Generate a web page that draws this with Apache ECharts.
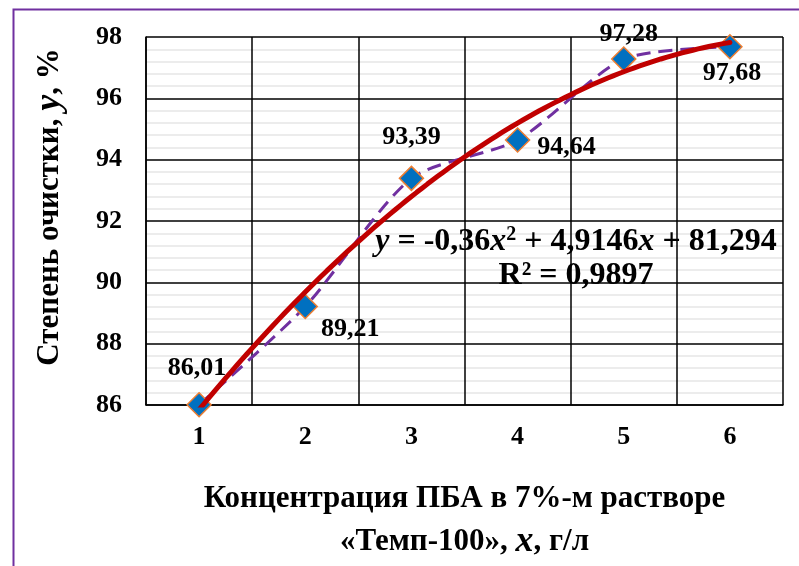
<!DOCTYPE html>
<html>
<head>
<meta charset="utf-8">
<script src="https://cdn.jsdelivr.net/npm/echarts@6/dist/echarts.min.js"></script>
<style>
html,body{margin:0;padding:0;background:#fff;}
#chart{width:799px;height:566px;}
</style>
</head>
<body>
<div id="chart"></div>
<script>
// ---- data ----
const categories = ['1', '2', '3', '4', '5', '6'];
const xValues = [1, 2, 3, 4, 5, 6];
const yValues = [86.01, 89.21, 93.39, 94.64, 97.28, 97.68];
const valueLabels = ['86,01', '89,21', '93,39', '94,64', '97,28', '97,68'];
// polynomial trendline shown on the chart: y = a*x^2 + b*x + c
const trendCoefs = [-0.36, 4.9146, 81.294];
const yTicks = [86, 88, 90, 92, 94, 96, 98];

const FONT = '"Liberation Serif", "Times New Roman", serif';
const FS = 26;   // ticks and data labels
const TS = 31;   // axis titles
const ES = 32;   // equation

// trendline samples along the chart's own equation
const trendData = [];
for (let i = 0; i <= 100; i++) {
  const x = 1 + i * 0.05;
  trendData.push([x, trendCoefs[0] * x * x + trendCoefs[1] * x + trendCoefs[2]]);
}

const labelPos = [
  { position: 'top', distance: 11, offset: [-2, 0] },
  { position: 'right', distance: 3, offset: [0, 23] },
  { position: 'top', distance: 15, offset: [0, 0] },
  { position: 'right', distance: 7, offset: [0, 7] },
  { position: 'top', distance: -1, offset: [5, 0] },
  { position: 'bottom', distance: 1, offset: [2, 0] }
];

const scatterData = yValues.map((v, i) => ({
  value: [categories[i], v],
  label: Object.assign({ show: true, formatter: valueLabels[i] }, labelPos[i])
}));

const chart = echarts.init(document.getElementById('chart'), null, { renderer: 'canvas' });
chart.setOption({
  backgroundColor: '#ffffff',
  animation: false,
  textStyle: { fontFamily: FONT },
  grid: { left: 146, right: 16, top: 37, bottom: 161, containLabel: false },
  xAxis: [
    {
      type: 'category',
      data: categories,
      boundaryGap: true,
      axisLine: { show: true, lineStyle: { color: '#000', width: 1.5 } },
      axisTick: { show: false },
      axisLabel: { color: '#000', fontFamily: FONT, fontSize: FS, fontWeight: 'bold', margin: 19 },
      splitLine: { show: true, lineStyle: { color: '#000', width: 1.5 } },
      name: '{a|Концентрация ПБА в 7%-м растворе}\n{a|«Темп-100», }{i|x}{a|, г/л}',
      nameLocation: 'middle',
      nameGap: 72,
      nameTextStyle: {
        rich: {
          a: { fontFamily: FONT, fontSize: TS, fontWeight: 'bold', color: '#000', lineHeight: 43 },
          i: { fontFamily: FONT, fontSize: TS + 5, fontWeight: 'bold', fontStyle: 'italic', color: '#000', lineHeight: 43 }
        }
      }
    },
    {
      type: 'value',
      min: 0.5,
      max: 6.5,
      show: false,
      splitLine: { show: false }
    }
  ],
  yAxis: {
    type: 'value',
    min: yTicks[0],
    max: yTicks[yTicks.length - 1],
    interval: 2,
    axisLine: { show: true, lineStyle: { color: '#000', width: 1.5 } },
    axisTick: { show: false },
    axisLabel: { color: '#000', fontFamily: FONT, fontSize: FS, fontWeight: 'bold', margin: 24 },
    splitLine: { show: true, lineStyle: { color: '#000', width: 1.5 } },
    minorTick: { show: false, splitNumber: 5 },
    minorSplitLine: { show: true, lineStyle: { color: '#e6e6e6', width: 1.5 } },
    name: '{a|Степень очистки, }{i|y}{a|, %}',
    nameLocation: 'middle',
    nameRotate: 90,
    nameGap: 78,
    nameTextStyle: {
      padding: [0, 0, 0, 28],
      rich: {
        a: { fontFamily: FONT, fontSize: TS, fontWeight: 'bold', color: '#000' },
        i: { fontFamily: FONT, fontSize: TS + 5, fontWeight: 'bold', fontStyle: 'italic', color: '#000' }
      }
    }
  },
  series: [
    {
      type: 'line',
      xAxisIndex: 0,
      data: yValues.map((v, i) => [categories[i], v]),
      smooth: 0.25,
      symbol: 'none',
      lineStyle: { color: '#7030A0', width: 3, type: [14, 8] },
      z: 2
    },
    {
      type: 'scatter',
      xAxisIndex: 0,
      data: scatterData,
      symbol: 'diamond',
      symbolSize: 24,
      itemStyle: { color: '#0070C0', borderColor: '#ED7D31', borderWidth: 1.5, opacity: 1 },
      label: { color: '#000', fontFamily: FONT, fontSize: FS, fontWeight: 'bold' },
      z: 3
    },
    {
      type: 'line',
      xAxisIndex: 1,
      data: trendData,
      smooth: false,
      symbol: 'none',
      lineStyle: { color: '#C00000', width: 5, cap: 'round' },
      z: 4
    }
  ],
  graphic: [
    {
      type: 'rect',
      left: 11, top: 7,
      shape: { width: 900, height: 700 },
      style: { fill: 'none', stroke: '#7030A0', lineWidth: 2 },
      silent: true
    },
    {
      type: 'text',
      x: 576, y: 225,
      z: 10,
      style: {
        text: '{i|y}{a| = -0,36}{i|x}{s|2}{a| + 4,9146}{i|x}{a| + 81,294}\n{a|R² = 0,9897}',
        align: 'center',
        fill: '#000',
        rich: {
          a: { fontFamily: FONT, fontSize: ES, fontWeight: 'bold', fill: '#000', lineHeight: 34 },
          i: { fontFamily: FONT, fontSize: ES, fontWeight: 'bold', fontStyle: 'italic', fill: '#000', lineHeight: 34 },
          s: { fontFamily: FONT, fontSize: 20, fontWeight: 'bold', fill: '#000', verticalAlign: 'top', lineHeight: 34, padding: [0, 0, 12, 0] }
        }
      }
    }
  ]
});
</script>
</body>
</html>
